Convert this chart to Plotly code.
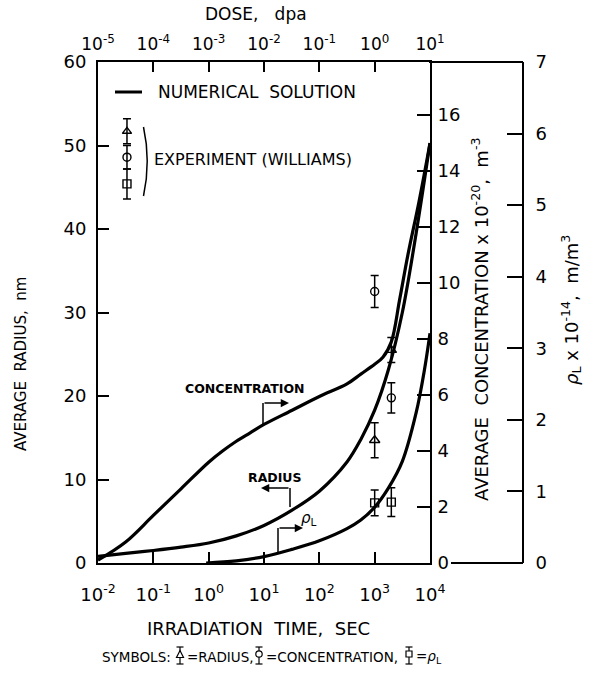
import plotly.graph_objects as go

# ---- numerical solution (irradiation time in seconds) ----
rad_time = [0.01, 0.0316, 0.1, 0.316, 1, 3.16, 10, 31.6, 100, 316, 562, 1000, 1780, 3160, 5620, 10000]
rad_nm = [0.8, 1.15, 1.5, 1.9, 2.4, 3.25, 4.5, 6.3, 8.6, 12.1, 14.8, 18.3, 23.2, 30.0, 39.5, 50.3]

conc_time = [0.01, 0.0316, 0.1, 0.316, 1, 1.78, 3.16, 5.62, 10, 31.6, 100, 316, 562, 1000, 1410,
             2000, 2820, 3980, 6310, 10000]
conc_val = [0.1, 0.75, 1.7, 2.65, 3.6, 4.0, 4.35, 4.65, 4.95, 5.45, 5.95, 6.4, 6.75, 7.1, 7.35,
            7.9, 9.4, 11.0, 12.9, 15.0]

rhoL_time = [0.9, 3.16, 10, 31.6, 100, 316, 562, 1000, 1780, 3160, 5620, 7940, 10000]
rhoL_val = [0.0, 0.03, 0.09, 0.19, 0.31, 0.48, 0.6, 0.78, 1.05, 1.42, 2.1, 2.7, 3.21]

# ---- experiment (Williams) ----
exp_time = [1000, 2000]
exp_rad = [14.7, 25.5]
exp_rad_err = [2.1, 1.5]
exp_conc = [9.7, 5.9]
exp_conc_err = [0.57, 0.54]
exp_rhoL = [0.84, 0.85]
exp_rhoL_err = [0.18, 0.2]

# ---- legend key symbols (drawn in radius units) ----
key_time = [0.0334, 0.0334, 0.0334]
key_rad = [51.7, 48.6, 45.4]
key_err = [1.5, 1.4, 1.8]
key_symbols = ["triangle-up-open", "circle-open", "square-open"]

# ---- axis ticks ----
time_ticks = [1e-2, 1e-1, 1e0, 1e1, 1e2, 1e3, 1e4]
time_labels = ["10<sup>-2</sup>", "10<sup>-1</sup>", "10<sup>0</sup>", "10<sup>1</sup>",
               "10<sup>2</sup>", "10<sup>3</sup>", "10<sup>4</sup>"]
dose_ticks = [1e-5, 1e-4, 1e-3, 1e-2, 1e-1, 1e0, 1e1]
dose_labels = ["10<sup>-5</sup>", "10<sup>-4</sup>", "10<sup>-3</sup>", "10<sup>-2</sup>",
               "10<sup>-1</sup>", "10<sup>0</sup>", "10<sup>1</sup>"]
rad_ticks = [0, 10, 20, 30, 40, 50, 60]
conc_ticks = [0, 2, 4, 6, 8, 10, 12, 14, 16]
rhoL_ticks = [0, 1, 2, 3, 4, 5, 6, 7]

# ---- page geometry ----
W, H = 597, 677
ML, MR, MT, MB = 98, 74, 62, 114
PW = W - ML - MR
PH = H - MT - MB
FONT = "DejaVu Sans"
INK = "black"


def px(x):
    return (x - ML) / PW


def py(y):
    return (H - MB - y) / PH


fig = go.Figure()

line_style = dict(color=INK, width=3.2, shape="spline", smoothing=1.0)
fig.add_trace(go.Scatter(x=rad_time, y=rad_nm, mode="lines", line=line_style,
                         yaxis="y", hoverinfo="skip"))
fig.add_trace(go.Scatter(x=conc_time, y=conc_val, mode="lines", line=line_style,
                         yaxis="y2", hoverinfo="skip"))
fig.add_trace(go.Scatter(x=rhoL_time, y=rhoL_val, mode="lines", line=line_style,
                         yaxis="y3", hoverinfo="skip"))

err_style = dict(type="data", color=INK, thickness=1.5, width=4)
mk_line = dict(color=INK, width=1.4)
fig.add_trace(go.Scatter(x=exp_time, y=exp_rad, mode="markers", yaxis="y",
                         marker=dict(symbol="triangle-up-open", size=9, color=INK, line=mk_line),
                         error_y=dict(array=exp_rad_err, **err_style)))
fig.add_trace(go.Scatter(x=exp_time, y=exp_conc, mode="markers", yaxis="y2",
                         marker=dict(symbol="circle-open", size=8, color=INK, line=mk_line),
                         error_y=dict(array=exp_conc_err, **err_style)))
fig.add_trace(go.Scatter(x=exp_time, y=exp_rhoL, mode="markers", yaxis="y3",
                         marker=dict(symbol="square-open", size=8, color=INK, line=mk_line),
                         error_y=dict(array=exp_rhoL_err, **err_style)))

# key symbols next to "EXPERIMENT (WILLIAMS)"
fig.add_trace(go.Scatter(x=key_time, y=key_rad, mode="markers", yaxis="y",
                         marker=dict(symbol=key_symbols, size=8, color=INK, line=mk_line),
                         error_y=dict(array=key_err, **err_style), hoverinfo="skip"))

# carrier for the dose axis on top
fig.add_trace(go.Scatter(x=[dose_ticks[0], dose_ticks[-1]], y=[0, 0], xaxis="x2", yaxis="y",
                         mode="markers", marker=dict(opacity=0), hoverinfo="skip"))

tick_font = dict(family=FONT, size=18, color=INK)
axis_common = dict(showgrid=False, zeroline=False, showline=True, linecolor=INK, linewidth=2,
                   ticks="inside", tickcolor=INK, tickwidth=2)

fig.update_layout(
    width=W, height=H,
    margin=dict(l=ML, r=MR, t=MT, b=MB, pad=0),
    paper_bgcolor="white", plot_bgcolor="white",
    showlegend=False,
    font=dict(family=FONT, color=INK),
    xaxis=dict(type="log", range=[-2, 4], domain=[0, px(430)], anchor="y",
               tickvals=time_ticks, ticktext=time_labels, ticklen=11,
               tickfont=dict(family=FONT, size=18, color=INK), ticklabelstandoff=14,
               **axis_common),
    xaxis2=dict(type="log", range=[-5, 1], overlaying="x", side="top", anchor="y",
                tickvals=dose_ticks, ticktext=dose_labels, ticklen=10,
                tickfont=dict(family=FONT, size=17, color=INK), ticklabelstandoff=3,
                **axis_common),
    yaxis=dict(range=[0, 60], tickvals=rad_ticks, ticklen=11, tickfont=tick_font,
               ticklabelstandoff=6, anchor="x", **axis_common),
    yaxis2=dict(range=[0, 17.9], tickvals=conc_ticks, ticklen=13, tickfont=tick_font,
                overlaying="y", side="right", anchor="x", ticklabelstandoff=2, **axis_common),
    yaxis3=dict(range=[0, 7], tickvals=rhoL_ticks, ticklen=15, tickfont=tick_font,
                overlaying="y", side="right", anchor="free", position=1.0,
                ticklabelstandoff=8, **axis_common),
)

shapes = []
thin = dict(color=INK, width=1.5)
# frame extensions out to the rho_L axis
shapes.append(dict(type="line", xref="paper", yref="paper", x0=px(429), x1=1.0, y0=1.0, y1=1.0,
                   line=dict(color=INK, width=2)))
shapes.append(dict(type="line", xref="paper", yref="paper", x0=px(451), x1=1.0, y0=0.0, y1=0.0,
                   line=dict(color=INK, width=2)))
# "NUMERICAL SOLUTION" key line
shapes.append(dict(type="line", xref="paper", yref="paper", x0=px(115), x1=px(142),
                   y0=py(92), y1=py(92), line=dict(color=INK, width=3)))
# bracket joining the experimental key symbols
shapes.append(dict(type="path", xref="paper", yref="paper",
                   path=f"M {px(143.5)},{py(127)} Q {px(151)},{py(161)} {px(143.5)},{py(196)}",
                   line=thin))
# vertical legs of the curve labels
for (x0, y0, y1) in [(263, 425, 403), (290, 507, 488), (278, 552, 528)]:
    shapes.append(dict(type="line", xref="paper", yref="paper", x0=px(x0), x1=px(x0),
                       y0=py(y0), y1=py(y1), line=thin))


# symbol glyphs in the footnote: bar with caps and a marker
def glyph(cx, kind):
    top, bot, mid = 647, 664, 654
    g = [dict(type="line", xref="paper", yref="paper", x0=px(cx), x1=px(cx),
              y0=py(top), y1=py(bot), line=dict(color=INK, width=1.2))]
    for yy in (top, bot):
        g.append(dict(type="line", xref="paper", yref="paper", x0=px(cx - 3.5), x1=px(cx + 3.5),
                      y0=py(yy), y1=py(yy), line=dict(color=INK, width=1.2)))
    fill = "white"
    if kind == "tri":
        g.append(dict(type="path", xref="paper", yref="paper", fillcolor=fill,
                      path=(f"M {px(cx-3.5)},{py(mid+3.5)} L {px(cx+3.5)},{py(mid+3.5)} "
                            f"L {px(cx)},{py(mid-3.5)} Z"),
                      line=dict(color=INK, width=1.2)))
    elif kind == "circ":
        g.append(dict(type="circle", xref="paper", yref="paper", fillcolor=fill,
                      x0=px(cx - 3.2), x1=px(cx + 3.2), y0=py(mid + 3.2), y1=py(mid - 3.2),
                      line=dict(color=INK, width=1.2)))
    else:
        g.append(dict(type="rect", xref="paper", yref="paper", fillcolor=fill,
                      x0=px(cx - 3), x1=px(cx + 3), y0=py(mid + 3), y1=py(mid - 3),
                      line=dict(color=INK, width=1.2)))
    return g


shapes += glyph(180, "tri") + glyph(259, "circ") + glyph(409, "sq")

annotations = []


def text(x, y, s, size, xanchor="center", angle=0, bold=False):
    annotations.append(dict(xref="paper", yref="paper", x=px(x), y=py(y), text=s,
                            showarrow=False, xanchor=xanchor, yanchor="middle",
                            textangle=angle,
                            font=dict(family=FONT, size=size, color=INK,
                                      weight="bold" if bold else "normal")))


text(256, 14, "DOSE,   dpa", 17)
text(258, 628, "IRRADIATION  TIME,  SEC", 18)
text(21, 364, "AVERAGE  RADIUS,  nm", 15, angle=-90)
text(480, 320, "AVERAGE  CONCENTRATION x 10<sup>-20</sup>,  m<sup>-3</sup>", 18, angle=-90)
text(571, 310, "<i>ρ</i><sub>L</sub> x 10<sup>-14</sup>,  m/m<sup>3</sup>", 18, angle=-90)
text(156, 92, "NUMERICAL  SOLUTION", 17, xanchor="left")
text(152, 160, "EXPERIMENT (WILLIAMS)", 16, xanchor="left")
text(245, 388, "CONCENTRATION", 12.5, bold=True)
text(274, 477, "RADIUS", 12.5, bold=True)
text(309, 518, "<i>ρ</i><sub>L</sub>", 15)
text(100, 657, "SYMBOLS:", 13.5, xanchor="left")
text(185, 657, "=RADIUS,", 13.5, xanchor="left")
text(264, 657, "=CONCENTRATION,", 13.5, xanchor="left")
text(414, 657, "=<i>ρ</i><sub>L</sub>", 13.5, xanchor="left")

# arrowheads on the curve labels
for (tx, ty, dx) in [(289, 403, -26), (261, 488, 29), (303, 528, -25)]:
    annotations.append(dict(xref="paper", yref="paper", x=px(tx), y=py(ty), text="",
                            showarrow=True, ax=dx, ay=0, arrowhead=2, arrowsize=1.1,
                            arrowwidth=1.5, arrowcolor=INK))

fig.update_layout(shapes=shapes, annotations=annotations)

fig.write_html("out.html")
